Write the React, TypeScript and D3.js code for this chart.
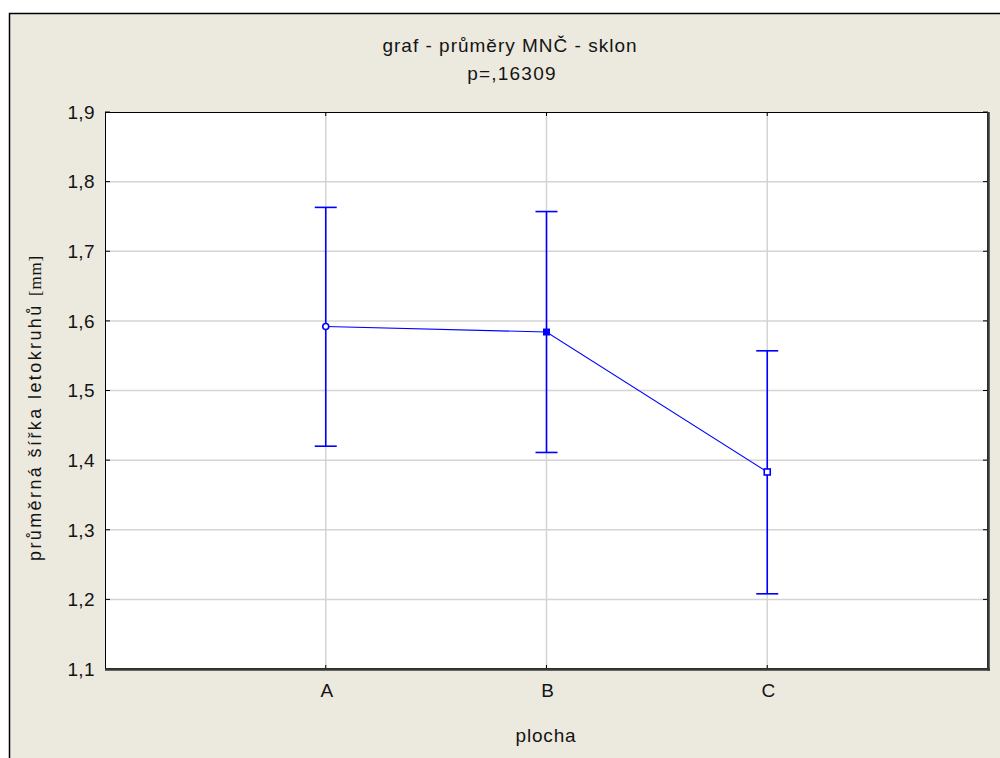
import React from "react";
import * as d3 from "d3";

// Group means with confidence-interval bounds
const categories = ["A", "B", "C"];
const means = [1.592, 1.584, 1.383];
const ciLower = [1.42, 1.411, 1.208];
const ciUpper = [1.763, 1.757, 1.557];
const yTicks = [1.1, 1.2, 1.3, 1.4, 1.5, 1.6, 1.7, 1.8, 1.9];

const titleText = "graf - průměry MNČ - sklon";
const subtitleText = "p=,16309";
const xAxisTitle = "plocha";
const yAxisTitle = "průměrná šířka letokruhů ";
const yAxisUnit = "[mm]";

const W = 1000;
const H = 758;
const plot = { left: 105, right: 988, top: 112, bottom: 669 };
const BG = "#ECE9DF";
const BLUE = "#0000FF";
const GRID = "#D4D4D4";
const FONT = "'Liberation Sans', Arial, sans-serif";
const INK = "#141414";

export default function App() {
  const x = d3
    .scalePoint<string>()
    .domain(categories)
    .range([plot.left, plot.right])
    .padding(1);
  const y = d3.scaleLinear().domain([1.1, 1.9]).range([plot.bottom, plot.top]);
  const fmt = (v: number) => d3.format(".1f")(v).replace(".", ",");

  const line = d3
    .line<number>()
    .x((_, i) => x(categories[i]) as number)
    .y((d) => y(d));

  const capHalf = 11;
  const ms = 3.5;

  return (
    <svg
      width={W}
      height={H}
      style={{ position: "absolute", left: 0, top: 0, display: "block" }}
    >
      <rect x={0} y={0} width={W} height={H} fill="#ffffff" />
      <rect x={9.5} y={13.5} width={W + 20} height={H + 20} fill={BG} stroke="#000" strokeWidth={1.5} />

      {/* titles */}
      <text x={510} y={52} textAnchor="middle" fontFamily={FONT} fontSize={19} letterSpacing={1.0} fill={INK}>
        {titleText}
      </text>
      <text x={512} y={80} textAnchor="middle" fontFamily={FONT} fontSize={19} letterSpacing={1.2} fill={INK}>
        {subtitleText}
      </text>

      {/* plot background */}
      <rect x={plot.left} y={plot.top} width={plot.right - plot.left} height={plot.bottom - plot.top} fill="#fff" />

      {/* grid */}
      {yTicks.slice(1, -1).map((t) => (
        <line key={"gy" + t} x1={plot.left} x2={plot.right} y1={y(t)} y2={y(t)} stroke={GRID} strokeWidth={1.5} />
      ))}
      {categories.map((c) => (
        <line key={"gx" + c} x1={x(c)} x2={x(c)} y1={plot.top} y2={plot.bottom} stroke={GRID} strokeWidth={1.5} />
      ))}

      {/* ticks */}
      {yTicks.map((t) => (
        <g key={"ty" + t}>
          <line x1={plot.left} x2={plot.left + 5} y1={y(t)} y2={y(t)} stroke="#000" strokeWidth={1} />
          <line x1={plot.right - 5} x2={plot.right} y1={y(t)} y2={y(t)} stroke="#000" strokeWidth={1} />
          <text
            x={95}
            y={y(t)}
            dy="0.36em"
            textAnchor="end"
            fontFamily={FONT}
            fontSize={19}
            letterSpacing={0.4}
            fill={INK}
          >
            {fmt(t)}
          </text>
        </g>
      ))}
      {categories.map((c) => (
        <g key={"tx" + c}>
          <line x1={x(c)} x2={x(c)} y1={plot.bottom} y2={plot.bottom - 4} stroke="#000" strokeWidth={1} />
          <line x1={x(c)} x2={x(c)} y1={plot.top} y2={plot.top + 4} stroke="#000" strokeWidth={1} />
          <text x={(x(c) as number) + 1} y={697} textAnchor="middle" fontFamily={FONT} fontSize={19} fill={INK}>
            {c}
          </text>
        </g>
      ))}

      {/* plot frame */}
      <rect
        x={plot.left + 0.5}
        y={plot.top + 0.5}
        width={plot.right - plot.left - 1}
        height={plot.bottom - plot.top - 1}
        fill="none"
        stroke="#000"
        strokeWidth={1}
      />
      <line x1={plot.left} x2={plot.right + 2} y1={plot.bottom + 0.5} y2={plot.bottom + 0.5} stroke="#3a3a3a" strokeWidth={2.5} />
      <line x1={plot.right + 0.5} x2={plot.right + 0.5} y1={plot.top} y2={plot.bottom + 1.5} stroke="#3a3a3a" strokeWidth={2.5} />

      {/* axis titles */}
      <text x={546} y={742} textAnchor="middle" fontFamily={FONT} fontSize={19} letterSpacing={0.8} fill={INK}>
        {xAxisTitle}
      </text>
      <text
        transform={`translate(41, ${408}) rotate(-90)`}
        textAnchor="middle"
        fontFamily={FONT}
        fontSize={18}
        letterSpacing={2.4}
        fill={INK}
      >
        {yAxisTitle}
        <tspan fontFamily="'Liberation Serif', 'Times New Roman', serif" fontSize={17} letterSpacing={0.8}>
          {yAxisUnit}
        </tspan>
      </text>

      {/* error bars */}
      {categories.map((c, i) => {
        const cx = x(c) as number;
        return (
          <g key={"eb" + c} stroke={BLUE} strokeWidth={1.6}>
            <line x1={cx} x2={cx} y1={y(ciUpper[i])} y2={y(ciLower[i])} />
            <line x1={cx - capHalf} x2={cx + capHalf} y1={y(ciUpper[i])} y2={y(ciUpper[i])} />
            <line x1={cx - capHalf} x2={cx + capHalf} y1={y(ciLower[i])} y2={y(ciLower[i])} />
          </g>
        );
      })}

      {/* mean line */}
      <path d={line(means) || ""} fill="none" stroke={BLUE} strokeWidth={1.1} />

      {/* mean markers */}
      {categories.map((c, i) => {
        const cx = x(c) as number;
        const cy = y(means[i]);
        if (i === 0)
          return <circle key={"m" + c} cx={cx} cy={cy} r={ms - 0.5} fill="#fff" stroke={BLUE} strokeWidth={1.6} />;
        if (i === 1)
          return <rect key={"m" + c} x={cx - ms} y={cy - ms} width={ms * 2} height={ms * 2} fill={BLUE} />;
        return (
          <rect key={"m" + c} x={cx - ms + 0.5} y={cy - ms + 0.5} width={ms * 2 - 1} height={ms * 2 - 1} fill="#fff" stroke={BLUE} strokeWidth={1.6} />
        );
      })}
    </svg>
  );
}
